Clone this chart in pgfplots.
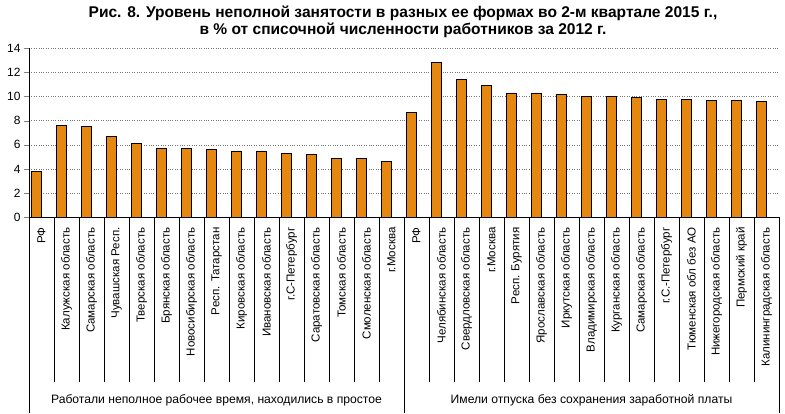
\documentclass[border=0pt]{standalone}
\usepackage{fontspec}
\setmainfont{Liberation Sans}
\usepackage{pgfplots}
\pgfplotsset{compat=1.18}
\definecolor{barorange}{RGB}{230,135,15}
\definecolor{gridgray}{RGB}{120,120,120}

\begin{document}
\begin{tikzpicture}
\useasboundingbox (-29bp,-196bp) rectangle (756bp,217.3bp);
\begin{axis}[at={(0,0)}, anchor=south west, scale only axis,
  width=750bp, height=169bp,
  xmin=-0.5, xmax=29.5, ymin=0, ymax=14,
  axis x line*=bottom, axis y line*=left,
  axis line style={line width=0.8pt},
  ytick={0,2,...,14}, ytick align=outside, major tick length=5bp,
  ymajorgrids, grid style={gridgray, dotted, line width=0.6pt},
  xtick={0,...,29}, x tick style={draw=none},
  xticklabels={РФ,Калужская область,Самарская область,Чувашская Респ.,Тверская область,Брянская область,Новосибирская область,Респ. Татарстан,Кировская область,Ивановская область,г.С-Петербург,Саратовская область,Томская область,Смоленская область,г.Москва,
    РФ,Челябинская область,Свердловская область,г.Москва,Респ. Бурятия,Ярославская область,Иркутская область,Владимирская область,Курганская область,Самарская область,г.С.-Петербург,Тюменская обл без АО,Нижегородская область,Пермский край,Калининградская область},
  xticklabel style={rotate=90, anchor=east, inner sep=0pt, font=\fontsize{11.6}{13}\selectfont},
  xticklabel shift=5bp,
  yticklabel style={font=\fontsize{12}{14}\selectfont},
  /pgf/number format/assume math mode=true,
  clip=false, ybar, bar width=10.5bp, bar shift=-5.25bp]
\addplot[fill=barorange, draw=black, line width=0.8pt] coordinates {
  (0,3.8) (1,7.6) (2,7.5) (3,6.7) (4,6.1) (5,5.7) (6,5.7) (7,5.6)
  (8,5.5) (9,5.5) (10,5.3) (11,5.2) (12,4.9) (13,4.9) (14,4.6)};
\addplot[fill=barorange, draw=black, line width=0.8pt] coordinates {
  (15,8.7) (16,12.8) (17,11.4) (18,10.9) (19,10.3) (20,10.3) (21,10.2)
  (22,10.0) (23,10.0) (24,9.9) (25,9.8) (26,9.8) (27,9.7) (28,9.7) (29,9.6)};
\pgfplotsinvokeforeach{0.5,1.5,...,28.5}{
  \draw[line width=0.8pt] (axis cs:#1,0) -- ++(0pt,-165bp);
}
\draw[line width=0.8pt] (axis cs:-0.5,0) -- ++(0pt,-196bp);
\draw[line width=0.8pt] (axis cs:14.5,0) -- ++(0pt,-196bp);
\draw[line width=0.8pt] (axis cs:29.5,0) -- ++(0pt,-196bp);
\node[anchor=base, yshift=-186bp, font=\fontsize{12.2}{14}\selectfont] at (axis cs:7,0)
  {Работали неполное рабочее время, находились в простое};
\node[anchor=base, yshift=-186bp, font=\fontsize{12.2}{14}\selectfont] at (axis cs:22,0)
  {Имели отпуска без сохранения заработной платы};
\end{axis}
\node[anchor=base, font=\bfseries\fontsize{15.6}{18}\selectfont] at (374bp,200bp)
  {Рис. 8. Уровень неполной занятости в разных ее формах во 2-м квартале 2015 г.,};
\node[anchor=base, font=\bfseries\fontsize{15.6}{18}\selectfont] at (374bp,182.3bp)
  {в \% от списочной численности работников за 2012 г.};
\end{tikzpicture}
\end{document}
